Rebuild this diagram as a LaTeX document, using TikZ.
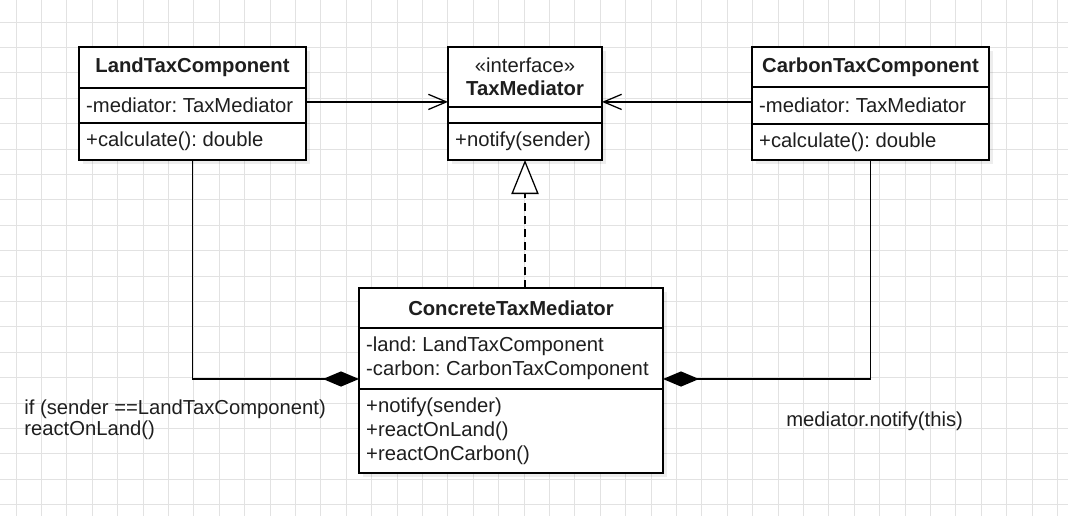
\documentclass[tikz,border=0pt]{standalone}
\usepackage{fontspec}
\setmainfont{Liberation Sans}
\usetikzlibrary{arrows.meta, positioning, shadows}
\definecolor{gridgray}{RGB}{226, 226, 226}
\definecolor{inkgray}{RGB}{30, 30, 30}

\tikzset{
  gridline/.style={draw=gridgray, line width=0.6pt},
  umlpart/.style={draw=black, fill=white, line width=1.1pt, outer sep=0pt,
    inner xsep=0.18cm, inner ysep=0pt, text width=#1, align=flush left, text=inkgray,
    font=\fontsize{14.4}{17}\selectfont\frenchspacing,
    drop shadow={shadow xshift=0.1cm, shadow yshift=-0.1cm, fill=black, opacity=0.07}},
  umltitle/.style={umlpart=#1, align=flush center, font=\fontsize{14.4}{16.4}\selectfont\bfseries},
  note/.style={inner sep=0pt, align=left, text=inkgray, font=\fontsize{14.4}{15.4}\selectfont\frenchspacing},
  assoc/.style={draw=black, line width=0.9pt, -{Straight Barb[length=4.5mm, width=3.8mm]}},
  realize/.style={draw=black, line width=0.9pt, dash pattern=on 2mm off 1.2mm,
    -{Triangle[open, length=8.5mm, width=6.8mm, fill=white]}},
  compose/.style={draw=black, line width=0.9pt, -{Diamond[length=9mm, width=3.8mm]}}
}

\begin{document}
\begin{tikzpicture}
  \useasboundingbox (0,0) rectangle (26.7,-12.9);
  % background grid
  \foreach \i in {0,...,41}
    \draw[gridline] ({0.4+0.635*\i},0) -- ++(0,-12.9);
  \foreach \j in {0,...,19}
    \draw[gridline] (0,{-0.55-0.635*\j}) -- ++(26.7,0);

  % LandTaxComponent
  \node[umltitle=5.315cm, minimum height=1.025cm, anchor=north] (landT) at (4.8125,-1.175) {LandTaxComponent};
  \node[umlpart=5.315cm, minimum height=0.875cm, below=0pt of landT] (landA) {-mediator: TaxMediator};
  \node[umlpart=5.315cm, minimum height=0.925cm, below=0pt of landA] (landO) {+calculate(): double};

  % TaxMediator
  \node[umltitle=3.49cm, minimum height=1.5cm, anchor=north] (medT) at (13.125,-1.175) {{\mdseries «interface»}\\TaxMediator};
  \node[umlpart=3.49cm, minimum height=0.4cm, below=0pt of medT] (medA) {};
  \node[umlpart=3.49cm, minimum height=0.925cm, below=0pt of medA] (medO) {+notify(sender)};

  % CarbonTaxComponent
  \node[umltitle=5.565cm, minimum height=1.0cm, anchor=north] (carbT) at (21.7625,-1.175) {CarbonTaxComponent};
  \node[umlpart=5.565cm, minimum height=0.925cm, below=0pt of carbT] (carbA) {-mediator: TaxMediator};
  \node[umlpart=5.565cm, minimum height=0.9cm, below=0pt of carbA] (carbO) {+calculate(): double};

  % ConcreteTaxMediator
  \node[umltitle=7.24cm, minimum height=1.0cm, anchor=north] (concT) at (12.775,-7.2) {ConcreteTaxMediator};
  \node[umlpart=7.24cm, minimum height=1.525cm, below=0pt of concT] (concA) {-land: LandTaxComponent\\-carbon: CarbonTaxComponent};
  \node[umlpart=7.24cm, minimum height=2.1cm, below=0pt of concA] (concO) {+notify(sender)\\+reactOnLand()\\+reactOnCarbon()};

  % notes
  \node[note, anchor=west] (ifNote) at (0.6,-10.49) {if (sender ==LandTaxComponent)\\reactOnLand()};
  \node[note, anchor=west] (notifyNote) at (19.65,-10.525) {mediator.notify(this)};

  % relations
  \coordinate (landLink) at ([yshift=0.09cm]landA.east);
  \coordinate (carbLink) at ([yshift=0.09cm]carbA.west);
  \draw[assoc] (landLink) -- (landLink -| medT.west);
  \draw[assoc] (carbLink) -- (carbLink -| medT.east);
  \draw[realize] (medO.south |- concT.north) -- (medO.south);
  \draw[compose] (landO.south) |- ([yshift=0.25cm]concA.south west);
  \draw[compose] (carbO.south) |- ([yshift=0.25cm]concA.south east);
\end{tikzpicture}
\end{document}
